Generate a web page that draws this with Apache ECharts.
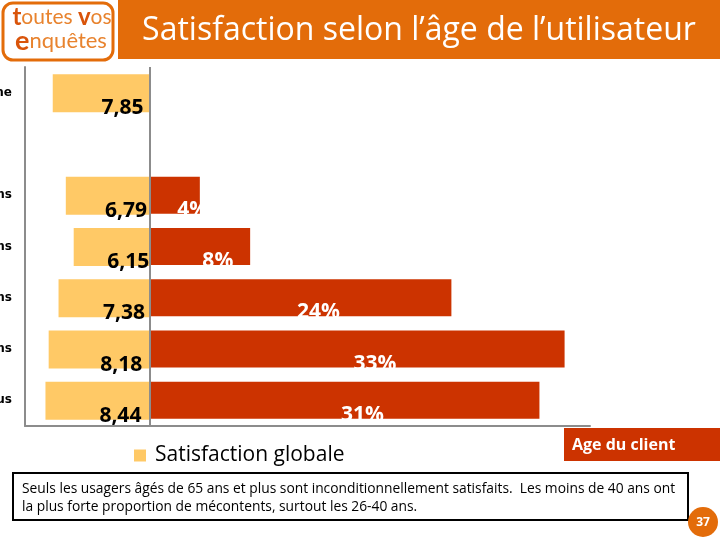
<!DOCTYPE html>
<html><head><meta charset="utf-8">
<script src="https://cdn.jsdelivr.net/npm/echarts@6/dist/echarts.min.js"></script>
<style>html,body{margin:0;padding:0;background:#fff}#c{width:720px;height:540px}</style>
</head><body><div id="c"></div>
<script>
const categories = ['Moyenne', '', 'Moins de 26 ans', '26-40 ans', '41-50 ans', '51-64 ans', '65 ans et plus'];
const satisfaction = [7.85, '-', 6.79, 6.15, 7.38, 8.18, 8.44];
const ageShare = ['-', '-', 4, 8, 24, 33, 31];
const titleText = 'Satisfaction selon l’âge de l’utilisateur';
const noteLines = [
  'Seuls les usagers âgés de 65 ans et plus sont inconditionnellement satisfaits.  Les moins de 40 ans ont',
  'la plus forte proportion de mécontents, surtout les 26-40 ans.'
];
const pageNumber = '37';

const ORANGE = '#E36C0A', RED = '#CC3300', YELLOW = '#FFC966', GRAY = '#8C8C8C';
const FONT = 'Open Sans';
const chart = echarts.init(document.getElementById('c'));
chart.setOption({
  backgroundColor: '#fff',
  animation: false,
  textStyle: { fontFamily: FONT },
  grid: { left: 25, top: 67, width: 565, height: 359, containLabel: false, outerBoundsMode: 'none' },
  legend: {
    data: ['Satisfaction globale'], left: 129, top: 440, icon: 'rect',
    itemWidth: 12, itemHeight: 12,
    textStyle: { fontSize: 21, color: '#000', fontFamily: FONT, padding: [0, 0, 0, 4] }
  },
  xAxis: [
    { type: 'value', inverse: true, min: -35.73, max: 10.10, position: 'bottom',
      axisLine: { show: true, onZero: false, lineStyle: { color: GRAY, width: 2 } },
      axisTick: { show: false }, axisLabel: { show: false }, splitLine: { show: false } },
    { type: 'value', min: -9.90, max: 35.02, show: false, splitLine: { show: false } }
  ],
  yAxis: {
    type: 'category', data: categories, inverse: true,
    axisLine: { show: true, onZero: false, lineStyle: { color: GRAY, width: 2 } },
    axisTick: { show: false },
    axisLabel: { margin: 13, fontSize: 12, fontWeight: 'bold', color: '#000', fontFamily: 'DejaVu Sans' }
  },
  series: [
    { name: 'Satisfaction globale', type: 'bar', xAxisIndex: 0, data: satisfaction,
      barWidth: 38, barGap: '-100%', itemStyle: { color: YELLOW },
      label: { show: true, position: ['72%', '100%'], align: 'center', verticalAlign: 'middle',
        offset: [0, -4], fontSize: 21, fontWeight: 'bold', color: '#000', fontFamily: FONT,
        formatter: p => p.value.toFixed(2).replace('.', ',') },
      markLine: { silent: true, symbol: 'none', label: { show: false },
        lineStyle: { color: GRAY, width: 2, type: 'solid' }, data: [{ xAxis: 0 }] } },
    { name: 'Age du client', type: 'bar', xAxisIndex: 1, data: ageShare,
      barWidth: 37, barGap: '-100%', itemStyle: { color: RED },
      label: { show: true, position: ['50%', '100%'], align: 'center', verticalAlign: 'middle',
        offset: [18, -4], fontSize: 21, fontWeight: 'bold', color: '#fff', fontFamily: FONT,
        formatter: p => p.value + '%' } }
  ],
  graphic: [
    { type: 'rect', shape: { x: 118, y: 0, width: 602, height: 59 }, style: { fill: ORANGE } },
    { type: 'text', x: 419, y: 31, style: { text: titleText, fill: '#fff', font: '32px "Open Sans"',
        textAlign: 'center', textVerticalAlign: 'middle' } },
    { type: 'rect', shape: { x: 3, y: 3, width: 110, height: 57, r: 10 },
      style: { fill: '#fff', stroke: ORANGE, lineWidth: 3 } },
    { type: 'text', x: 62, y: 17, style: { textAlign: 'center', textVerticalAlign: 'middle',
        rich: { a: { fontSize: 24, fontFamily: 'Lato', fontWeight: 'bold', fill: '#D9540A' },
                b: { fontSize: 21, fontFamily: 'Lato', fill: '#E8832E' } },
        text: '{a|t}{b|outes }{a|v}{b|os}' } },
    { type: 'text', x: 61, y: 41, style: { textAlign: 'center', textVerticalAlign: 'middle',
        rich: { a: { fontSize: 27, fontFamily: 'Lato', fontWeight: 'bold', fill: '#D9540A' },
                b: { fontSize: 22, fontFamily: 'Lato', fill: '#E8832E' } },
        text: '{a|e}{b|nquêtes}' } },
    { type: 'rect', shape: { x: 564, y: 428, width: 156, height: 33 }, style: { fill: RED } },
    { type: 'text', x: 572, y: 445, style: { text: 'Age du client', fill: '#fff',
        font: 'bold 16px "Open Sans"', textVerticalAlign: 'middle' } },
    { type: 'rect', shape: { x: 13, y: 473, width: 675, height: 47 },
      style: { fill: '#fff', stroke: '#000', lineWidth: 2 } },
    { type: 'text', x: 22, y: 489, style: { text: noteLines[0], fill: '#000',
        font: '13.8px "Open Sans"', textVerticalAlign: 'middle' } },
    { type: 'text', x: 22, y: 507, style: { text: noteLines[1], fill: '#000',
        font: '13.8px "Open Sans"', textVerticalAlign: 'middle' } },
    { type: 'circle', shape: { cx: 703, cy: 522, r: 15 }, style: { fill: ORANGE } },
    { type: 'text', x: 703, y: 523, style: { text: pageNumber, fill: '#fff',
        font: 'bold 12px "Open Sans"', textAlign: 'center', textVerticalAlign: 'middle' } }
  ]
});
</script></body></html>
